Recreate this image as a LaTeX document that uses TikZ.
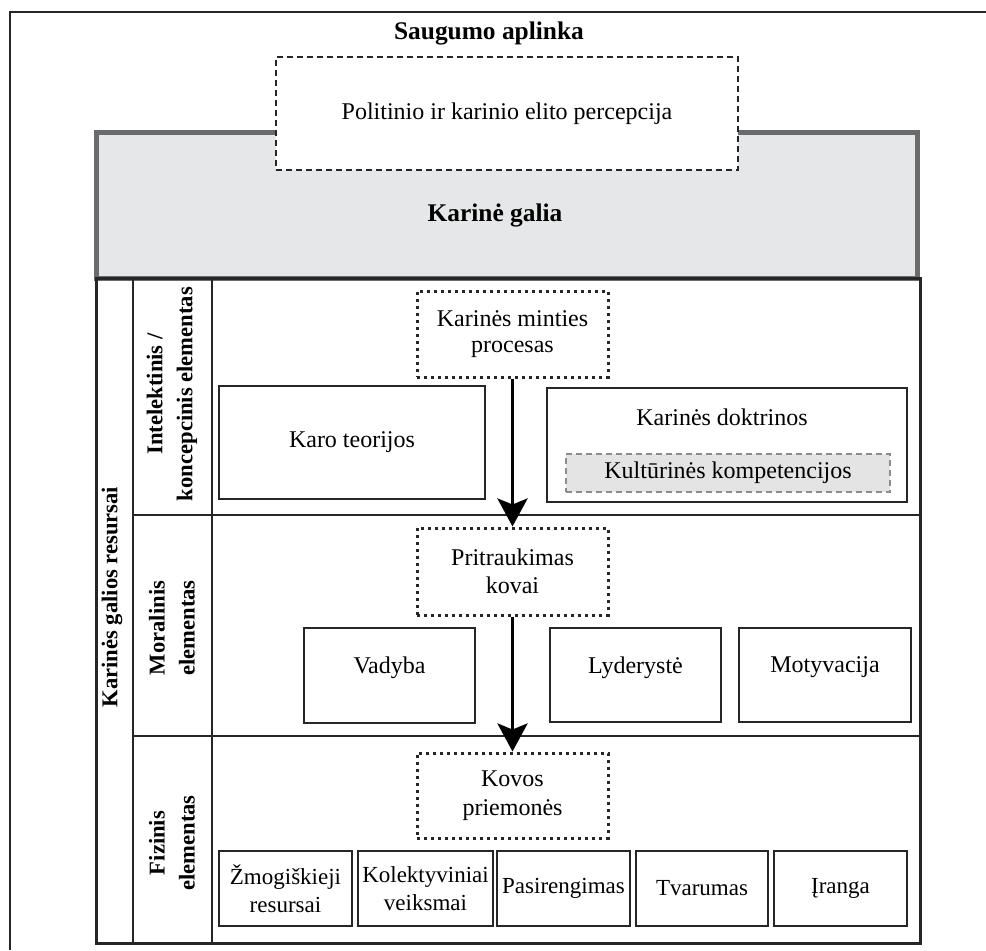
\documentclass[tikz,border=0pt]{standalone}
\usepackage{fontspec}
\setmainfont{Liberation Serif}
\usetikzlibrary{arrows.meta}
\begin{document}
\begin{tikzpicture}[x=0.5pt,y=-0.5pt,font=\fontsize{12}{14}\selectfont,
  plainbox/.style={draw=ink,line width=1pt,fill=white,minimum width=66.5pt,minimum height=37.5pt,inner sep=2pt,align=center},
  smallbox/.style={plainbox,font=\fontsize{11.5}{14}\selectfont},
  raised/.style={text depth=10pt},
  dotbox/.style={draw=ink,line width=1.5pt,dash pattern=on 1.5pt off 2pt,fill=white,minimum width=95.5pt,minimum height=43pt,align=center},
  rowlabel/.style={rotate=90,font=\fontsize{11.3}{15}\selectfont\bfseries,align=center},
  flowarrow/.style={draw=black,line width=1.8pt,-{Stealth[length=14pt,width=15pt,inset=3pt]}}]
  \definecolor{ink}{HTML}{262626}
  \definecolor{galiafill}{HTML}{E6E7E8}
  \definecolor{galiaedge}{HTML}{6A6B6D}
  \definecolor{kultfill}{HTML}{E4E4E4}
  \definecolor{kultedge}{HTML}{8C8C8C}
  \useasboundingbox (0,0) rectangle (986,950);
  % outer frame
  \draw [ink,line width=1pt] (10,950) -- (10,12) -- (986,12);
  \node [font=\fontsize{12.7}{15}\selectfont\bfseries] (aplinka) at (489,33) {Saugumo aplinka};
  % gray block
  \draw [galiaedge,fill=galiafill,line width=2.5pt] (96.5,132.5) rectangle (917.5,278);
  \node [font=\fontsize{12.7}{15}\selectfont\bfseries] (galia) at (495,215) {Karinė galia};
  \node [draw=ink,line width=1.2pt,dash pattern=on 3pt off 2pt,fill=white,minimum width=231pt,minimum height=56.5pt] (elitas) at (507,113.5) {Politinio ir karinio elito percepcija};
  % table
  \draw [ink,line width=1.5pt] (96,278) rectangle (920,943);
  \draw [ink,line width=1pt] (133,278) -- (133,943);
  \draw [ink,line width=1pt] (212,278) -- (212,943);
  \draw [ink,line width=1pt] (133,515) -- (920,515);
  \draw [ink,line width=1pt] (133,736) -- (920,736);
  \node [rowlabel] (resursai) at (112,597) {Karinės galios resursai};
  \node [rowlabel] (intelektas) at (172,394) {Intelektinis /\\koncepcinis elementas};
  \node [rowlabel] (morale) at (172,628) {Moralinis\\elementas};
  \node [rowlabel] (fizika) at (172,843) {Fizinis\\elementas};
  % intellectual row
  \node [dotbox,font=\fontsize{12}{13}\selectfont] (minties) at (512.5,334) {Karinės minties\\procesas};
  \node [plainbox,minimum width=133pt,minimum height=56.5pt] (teorijos) at (352,442.5) {Karo teorijos};
  \node [plainbox,minimum width=180pt,minimum height=57pt] (doktrinos) at (727,445) {};
  \node (doktrinostxt) at (722,417) {Karinės doktrinos};
  \node [draw=kultedge,fill=kultfill,line width=1pt,dash pattern=on 3pt off 2pt,minimum width=162pt,minimum height=19pt] (kultura) at (728,473) {Kultūrinės kompetencijos};
  % moral row
  \node [dotbox,minimum height=43.5pt] (pritraukimas) at (512.5,571.5) {Pritraukimas\\kovai};
  \node [plainbox,raised,minimum width=85.5pt,minimum height=47.5pt] (vadyba) at (389.5,675.5) {Vadyba};
  \node [plainbox,raised,minimum width=85.5pt,minimum height=47pt] (lyderyste) at (635.5,675) {Lyderystė};
  \node [plainbox,raised,minimum width=86pt,minimum height=47pt] (motyvacija) at (825,675) {Motyvacija};
  % physical row
  \node [dotbox,minimum height=42.5pt,font=\fontsize{12}{14.5}\selectfont] (kovos) at (512.5,795.5) {Kovos\\priemonės};
  \node [smallbox] (zmones) at (285.5,888.5) {Žmogiškieji\\resursai};
  \node [smallbox] (kolektyvas) at (425.5,888.5) {Kolektyviniai\\veiksmai};
  \node [smallbox] (pasirengimas) at (563.5,888.5) {Pasirengimas};
  \node [smallbox,minimum width=66pt] (tvarumas) at (702,888.5) {Tvarumas};
  \node [smallbox] (iranga) at (840.5,888.5) {Įranga};
  % flow
  \draw [flowarrow] (minties) -- (pritraukimas);
  \draw [flowarrow] (pritraukimas) -- (kovos);
\end{tikzpicture}
\end{document}
